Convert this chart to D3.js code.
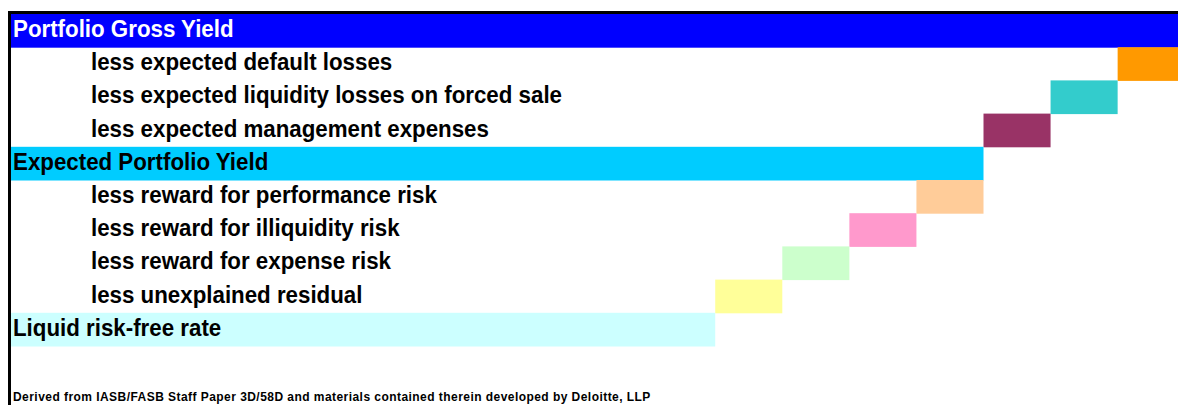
<!DOCTYPE html>
<html>
<head>
<meta charset="utf-8">
<script src="https://cdn.jsdelivr.net/npm/d3@7"></script>
<style>
  body { margin: 0; background: #fff; }
  #canvas { width: 1178px; height: 405px; overflow: hidden; }
  text { font-family: "Liberation Sans", Arial, sans-serif; font-weight: bold; }
</style>
</head>
<body>
<div id="canvas"></div>
<script>
var canvasWidth = 1178,
    canvasHeight = 405;

// chart data
var labels = ['Portfolio Gross Yield', 'less expected default losses', 'less expected liquidity losses on forced sale',
              'less expected management expenses', 'Expected Portfolio Yield', 'less reward for performance risk',
              'less reward for illiquidity risk', 'less reward for expense risk', 'less unexplained residual',
              'Liquid risk-free rate'];
var kinds = ['total', 'less', 'less', 'less', 'total', 'less', 'less', 'less', 'less', 'total'];
var values = [17.5, 1, 1, 1, 14.5, 1, 1, 1, 1, 10.5];
var colors = ['#0000ff', '#ff9900', '#33cccc', '#993366', '#00ccff', '#ffcc99', '#ff99cc', '#ccffcc', '#ffff99', '#ccffff'];
var footnote = 'Derived from IASB/FASB Staff Paper 3D/58D and materials contained therein developed by Deloitte, LLP';

var margin = {t:14, l:11};

// waterfall: totals start at zero, each "less" step hangs below the running level
var rows = [];
var level = 0;
for (var i = 0; i < labels.length; i++) {
    var x0, x1;
    if (kinds[i] == 'total') {
        x0 = 0; x1 = values[i]; level = values[i];
    } else {
        x1 = level; x0 = level - values[i]; level = x0;
    }
    rows.push({label: labels[i], kind: kinds[i], x0: x0, x1: x1, color: colors[i]});
}

var x = d3.scaleLinear().domain([0, 17.4]).range([margin.l, canvasWidth]);
var y = d3.scaleBand().domain(d3.range(rows.length)).range([margin.t, 346]).padding(0);

var svg = d3.select('#canvas')
    .append('svg')
    .attr('width', canvasWidth)
    .attr('height', canvasHeight);

svg.selectAll('rect.bar')
    .data(rows)
    .enter()
    .append('rect')
    .attr('class', 'bar')
    .attr('x', function(d){ return x(d.x0); })
    .attr('y', function(d, i){ return y(i); })
    .attr('width', function(d){ return x(d.x1) - x(d.x0); })
    .attr('height', y.bandwidth() + 0.5)
    .style('fill', function(d){ return d.color; });

// labels are a bit taller and narrower than plain Arial bold
svg.selectAll('text.label')
    .data(rows)
    .enter()
    .append('text')
    .attr('class', 'label')
    .attr('transform', function(d, i){
        return 'translate(' + (d.kind == 'total' ? 13 : 91) + ',' + (y(i) + 23) + ') scale(0.93,1)';
    })
    .style('font-size', '24px')
    .style('fill', function(d, i){ return i == 0 ? '#fff' : '#000'; })
    .text(function(d){ return d.label; });

// frame lines (top and left)
svg.append('line')
    .attr('x1', 8).attr('x2', canvasWidth)
    .attr('y1', 12.5).attr('y2', 12.5)
    .style('stroke', '#000').style('stroke-width', 3);
svg.append('line')
    .attr('x1', 9.5).attr('x2', 9.5)
    .attr('y1', 11).attr('y2', canvasHeight)
    .style('stroke', '#000').style('stroke-width', 3);

svg.append('text')
    .attr('x', 13)
    .attr('y', 401)
    .style('font-size', '12px')
    .style('letter-spacing', '0.45px')
    .text(footnote);
</script>
</body>
</html>
